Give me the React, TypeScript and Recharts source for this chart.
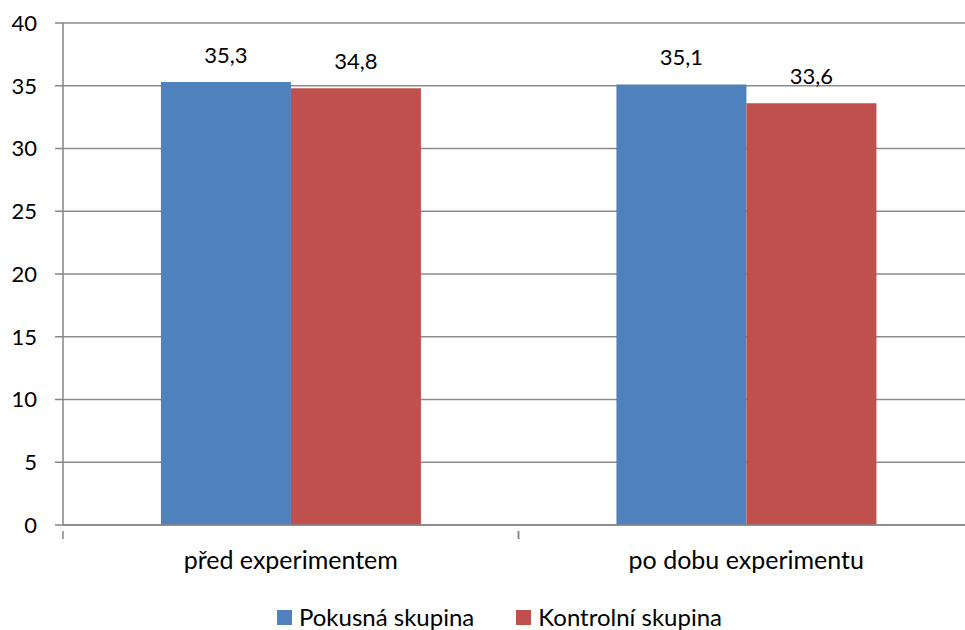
import React from "react";
import { BarChart, Bar, XAxis, YAxis, CartesianGrid, Legend, LabelList } from "recharts";

const categories = ["před experimentem", "po dobu experimentu"];
const pokusna = [35.3, 35.1];
const kontrolni = [34.8, 33.6];
const yTicks = [0, 5, 10, 15, 20, 25, 30, 35, 40];
const seriesNames = ["Pokusná skupina", "Kontrolní skupina"];
const seriesColors = ["#4f81bd", "#c0504d"];

const data = categories.map((c, i) => ({ name: c, pokusna: pokusna[i], kontrolni: kontrolni[i] }));

const FONT = "Lato, 'Open Sans', sans-serif";
const FS = 22;
const FS_BIG = 25;
const FS_LEG = 24;
const AXIS = "#868686";

const fmt = (v: any) => String(v).replace(".", ",");

const XTick = (props: any) => {
  const { x, y, payload, width } = props;
  const band = width / categories.length;
  return (
    <g>
      <line x1={x - band / 2} x2={x - band / 2} y1={y - 2} y2={y + 6} stroke={AXIS} strokeWidth={1.5} />
      <line x1={x + band / 2} x2={x + band / 2} y1={y - 2} y2={y + 6} stroke={AXIS} strokeWidth={1.5} />
      <text x={x} y={y} dy={36} textAnchor="middle" fill="#000" fontSize={FS_BIG} fontFamily={FONT}>
        {payload.value}
      </text>
    </g>
  );
};

const LegendContent = () => (
  <div style={{ display: "flex", justifyContent: "center", alignItems: "center", paddingTop: 20, paddingLeft: 25, gap: 42, fontFamily: FONT, fontSize: FS_LEG, color: "#000", lineHeight: "24px" }}>
    {seriesNames.map((n, i) => (
      <div key={n} style={{ display: "flex", alignItems: "center" }}>
        <span style={{ display: "inline-block", width: 15, height: 15, background: seriesColors[i], marginRight: 7 }} />
        <span>{n}</span>
      </div>
    ))}
  </div>
);

export default function App() {
  return (
    <div style={{ position: "absolute", left: 0, top: 0, width: 965, height: 630, overflow: "hidden", background: "#fff" }}>
      <BarChart
        width={974}
        height={630}
        data={data}
        margin={{ top: 23, right: 0, left: 0, bottom: 0 }}
        barCategoryGap="21.5%"
        barGap={0}
      >
        <CartesianGrid vertical={false} stroke="#8c8c8c" strokeWidth={1.5} />
        <XAxis
          dataKey="name"
          height={60}
          tickLine={false}
          axisLine={{ stroke: AXIS, strokeWidth: 1.5 }}
          tick={<XTick />}
          interval={0}
        />
        <YAxis
          width={63}
          domain={[0, 40]}
          ticks={yTicks}
          tickSize={8}
          tickMargin={18}
          axisLine={{ stroke: AXIS, strokeWidth: 1.5 }}
          tickLine={{ stroke: AXIS, strokeWidth: 1.5 }}
          tick={{ fill: "#000", fontSize: FS, fontFamily: FONT }}
          interval={0}
        />
        <Legend verticalAlign="bottom" height={45} content={<LegendContent />} />
        <Bar dataKey="pokusna" name={seriesNames[0]} fill={seriesColors[0]} isAnimationActive={false}>
          <LabelList dataKey="pokusna" position="top" offset={19} formatter={fmt} fill="#000" fontSize={FS} fontFamily={FONT} />
        </Bar>
        <Bar dataKey="kontrolni" name={seriesNames[1]} fill={seriesColors[1]} isAnimationActive={false}>
          <LabelList dataKey="kontrolni" position="top" offset={19} formatter={fmt} fill="#000" fontSize={FS} fontFamily={FONT} />
        </Bar>
      </BarChart>
    </div>
  );
}
